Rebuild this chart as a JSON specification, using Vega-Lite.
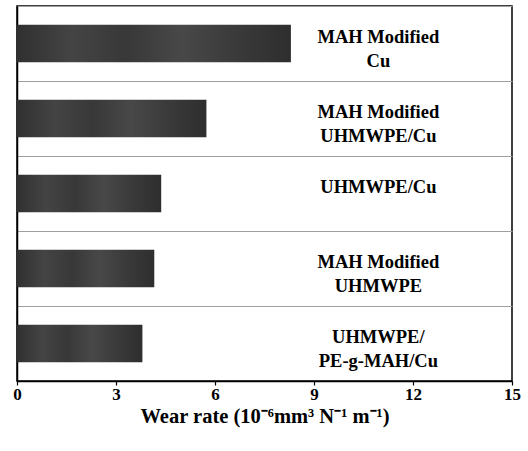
{
  "$schema": "https://vega.github.io/schema/vega-lite/v6.json",
  "width": 495,
  "height": 375,
  "autosize": {"type": "none"},
  "padding": {"left": 17, "top": 6, "right": 16, "bottom": 70},
  "background": "white",
  "config": {
    "view": {"stroke": "black", "strokeWidth": 1.5},
    "font": "Liberation Serif"
  },
  "data": {
    "values": [
      {"material": "MAH Modified\nCu", "wear": 8.3},
      {"material": "MAH Modified\nUHMWPE/Cu", "wear": 5.74},
      {"material": "UHMWPE/Cu", "wear": 4.37},
      {"material": "MAH Modified\nUHMWPE", "wear": 4.16},
      {"material": "UHMWPE/\nPE-g-MAH/Cu", "wear": 3.8}
    ]
  },
  "encoding": {
    "y": {
      "field": "material",
      "type": "nominal",
      "sort": null,
      "scale": {"paddingInner": 0, "paddingOuter": 0},
      "axis": {
        "title": null,
        "labels": false,
        "ticks": false,
        "domain": true,
        "domainColor": "black",
        "domainWidth": 1.5,
        "grid": true,
        "gridColor": "#a0a0a0",
        "gridWidth": 1,
        "bandPosition": 0
      }
    }
  },
  "layer": [
    {
      "mark": {
        "type": "bar",
        "height": {"band": 0.5},
        "fill": {
          "gradient": "linear",
          "x1": 0, "y1": 0, "x2": 1, "y2": 0,
          "stops": [
            {"offset": 0, "color": "#303030"},
            {"offset": 0.2, "color": "#444444"},
            {"offset": 0.4, "color": "#383838"},
            {"offset": 0.6, "color": "#484848"},
            {"offset": 0.8, "color": "#3a3a3a"},
            {"offset": 1, "color": "#2e2e2e"}
          ]
        }
      },
      "encoding": {
        "x": {
          "field": "wear",
          "type": "quantitative",
          "scale": {"domain": [0, 15], "nice": false},
          "axis": {
            "values": [0, 3, 6, 9, 12, 15],
            "grid": false,
            "title": "Wear rate (10⁻⁶mm³ N⁻¹ m⁻¹)",
            "titleFont": "Liberation Serif",
            "titleFontSize": 20.5,
            "titleFontWeight": "bold",
            "titleColor": "black",
            "titlePadding": 4,
            "labelFont": "Liberation Serif",
            "labelFontSize": 17,
            "labelFontWeight": "bold",
            "labelColor": "black",
            "labelPadding": 1,
            "labelFlush": false,
            "domainColor": "black",
            "domainWidth": 1.5,
            "tickColor": "black",
            "tickSize": 4,
            "tickWidth": 1.2
          }
        }
      }
    },
    {
      "mark": {
        "type": "text",
        "lineBreak": "\n",
        "font": "Liberation Serif",
        "fontSize": 18.5,
        "fontWeight": "bold",
        "color": "black",
        "align": "center",
        "baseline": "middle",
        "lineHeight": 24,
        "dy": -7
      },
      "encoding": {
        "x": {"datum": 10.95, "type": "quantitative"},
        "text": {"field": "material"}
      }
    }
  ]
}
